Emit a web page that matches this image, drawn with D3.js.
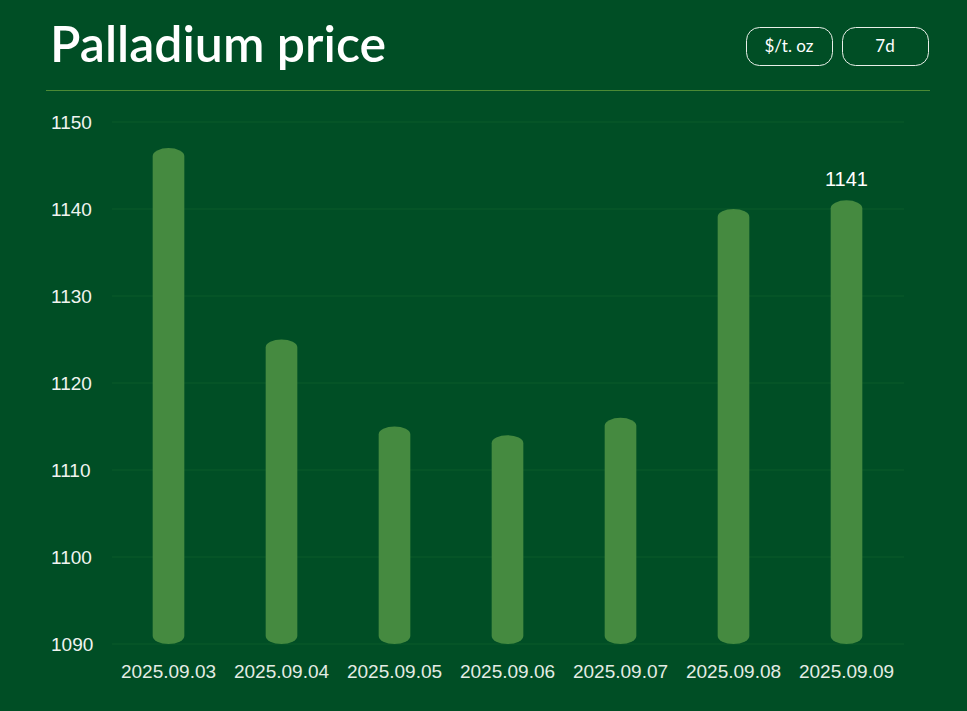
<!DOCTYPE html>
<html><head><meta charset="utf-8">
<script src="https://cdn.jsdelivr.net/npm/d3@7"></script>
<style>
body{margin:0;background:#004e25;overflow:hidden}
</style></head><body>
<script>
// chart data
var dates = ['2025.09.03','2025.09.04','2025.09.05','2025.09.06','2025.09.07','2025.09.08','2025.09.09'];
var prices = [1147, 1125, 1115, 1114, 1116, 1140, 1141];
var yTicks = [1090, 1100, 1110, 1120, 1130, 1140, 1150];

var W = 967, H = 711;
var svg = d3.select('body').append('svg').attr('width', W).attr('height', H);

// header
svg.append('text').attr('x', 50).attr('y', 62).text('Palladium price')
   .attr('fill', '#fff').attr('font-family', 'Lato, sans-serif').attr('font-weight', 600).attr('font-size', 50);
var buttons = [{t: '$/t. oz', x: 746, w: 86}, {t: '7d', x: 842, w: 86}];
buttons.forEach(b => {
   svg.append('rect').attr('x', b.x + 0.5).attr('y', 27.5).attr('width', b.w).attr('height', 38).attr('rx', 13)
      .attr('fill', 'none').attr('stroke', '#e8efe8').attr('stroke-width', 1);
   svg.append('text').attr('x', b.x + b.w / 2).attr('y', 52).attr('text-anchor', 'middle').text(b.t)
      .attr('fill', '#fff').attr('font-family', 'Lato, sans-serif').attr('font-size', 17);
});
svg.append('line').attr('x1', 46).attr('x2', 930).attr('y1', 90.5).attr('y2', 90.5).attr('stroke', '#4b8a35');

// scales
var y = d3.scaleLinear().domain([1090, 1150]).range([644, 122]);
var x = d3.scaleBand().domain(dates).range([112, 903]).paddingInner(0.72).paddingOuter(0.36);

var g = svg.append('g');
g.selectAll('.grid').data(yTicks).enter().append('line')
   .attr('x1', 112).attr('x2', 904).attr('y1', d => y(d)).attr('y2', d => y(d))
   .attr('stroke', '#0b5a2a').attr('stroke-width', 1);

var axis = svg.append('g').attr('transform', 'translate(51,0)')
   .call(d3.axisLeft(y).tickValues(yTicks).tickFormat(d3.format('d')).tickSize(0).tickPadding(0));
axis.select('.domain').remove();
axis.selectAll('text').attr('text-anchor', 'start').attr('fill', '#f0f4f0').attr('font-family', 'Liberation Sans, Arial, sans-serif').attr('font-size', 19);

var xa = svg.append('g').attr('transform', 'translate(0,672)')
   .call(d3.axisBottom(x).tickSize(0).tickPadding(0));
xa.select('.domain').remove();
xa.selectAll('text').attr('fill', '#e4ece4').attr('font-family', 'Liberation Sans, Arial, sans-serif').attr('font-size', 19).attr('dy', '0.3em');

// bars with rounded ends
var ry = 8;
g.selectAll('.bar').data(prices).enter().append('rect')
   .attr('x', (d, i) => x(dates[i])).attr('width', x.bandwidth())
   .attr('y', d => y(d)).attr('height', d => y(1090) - y(d))
   .attr('rx', x.bandwidth() / 2).attr('ry', ry)
   .attr('fill', '#458a40');

// last value label
var last = prices.length - 1;
svg.append('text').attr('x', x(dates[last]) + x.bandwidth() / 2).attr('y', y(prices[last]) - 14)
   .attr('text-anchor', 'middle').text(prices[last])
   .attr('fill', '#fff').attr('font-family', 'Liberation Sans, Arial, sans-serif').attr('font-size', 20);
</script>
</body></html>
